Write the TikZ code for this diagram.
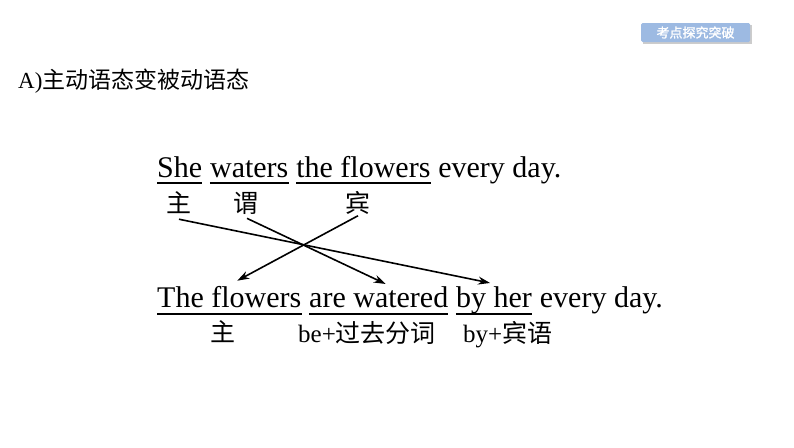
\documentclass[tikz,border=0pt]{standalone}
\usepackage{fontspec}
\setmainfont{Liberation Serif}
\newfontfamily\cjk{Noto Sans CJK SC}
\newfontfamily\cjkbold[FakeBold=1.5]{Noto Sans CJK SC}
\usetikzlibrary{positioning,arrows.meta}
\definecolor{badgeblue}{RGB}{157,186,226}
\tikzset{
  word/.style={inner sep=0pt, font=\fontsize{30}{36}\selectfont},
  tag/.style={inner sep=0pt, font=\fontsize{25}{30}\selectfont\cjk},
  uline/.style={line width=1.6pt},
  arr/.style={-{Stealth[length=12pt,width=8pt]}, line width=1.6pt},
}
\begin{document}
\begin{tikzpicture}[x=1pt,y=-1pt]
\useasboundingbox (0,0) rectangle (794,447);

% badge
\fill[black!20] (643,25) rectangle (752,44);
\node[fill=badgeblue, rounded corners=1.5pt, minimum width=109pt, minimum height=19pt,
      text=white, font=\fontsize{13}{15}\selectfont\cjkbold] (badge) at (695.5,32.5) {考点探究突破};

\node[anchor=base west, inner sep=0pt, font=\fontsize{23}{28}\selectfont] (title) at (18,88)
    {A)\cjk 主动语态变被动语态};

% active sentence
\node[word, anchor=base west] (she) at (157,177) {She};
\node[word, base right=7.5pt of she] (waters) {waters};
\node[word, base right=7.5pt of waters] (theflw) {the flowers};
\node[word, base right=7.5pt of theflw] (daysA) {every day.};
\foreach \n in {she,waters,theflw}
  \draw[uline] ([yshift=-6pt]\n.base west) -- ([yshift=-6pt]\n.base east);

\node[tag] (zhuA) at (179,203) {主};
\node[tag] (weiA) at (246,203) {谓};
\node[tag] (binA) at (358,203) {宾};

% passive sentence
\node[word, anchor=base west] (theflowers) at (157,307) {The flowers};
\node[word, base right=7.5pt of theflowers] (arewatered) {are watered};
\node[word, base right=7.5pt of arewatered] (byher) {by her};
\node[word, base right=7.5pt of byher] (daysB) {every day.};
\foreach \n in {theflowers,arewatered,byher}
  \draw[uline] ([yshift=-7pt]\n.base west) -- ([yshift=-7pt]\n.base east);

\node[tag] (zhuB) at (223,332) {主};
\node[tag, anchor=base west] (bepp) at (298,342) {{\rmfamily be+}过去分词};
\node[tag, anchor=base west] (byobj) at (463,342) {{\rmfamily by+}宾语};

% arrows
\draw[arr] ([yshift=-5pt]zhuA.south) -- ([xshift=-4pt,yshift=3pt]byher.north);
\draw[arr] ([xshift=1pt,yshift=-4pt]weiA.south) -- ([xshift=7pt,yshift=2pt]arewatered.north);
\draw[arr] ([yshift=-1pt]binA.south) -- ([xshift=8pt,yshift=5pt]theflowers.north);

\end{tikzpicture}
\end{document}
